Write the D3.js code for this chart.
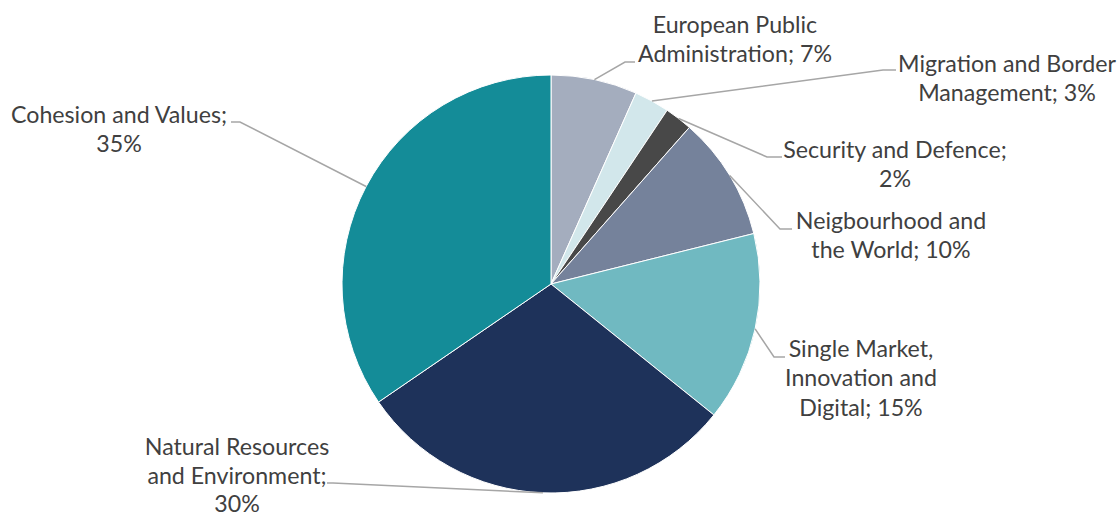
<!DOCTYPE html>
<html>
<head>
<meta charset="utf-8">
<script src="https://cdn.jsdelivr.net/npm/d3@7"></script>
<style>
  body { margin: 0; background: #fff; }
  text { font-family: Lato, "Noto Sans", sans-serif; fill: #404040; }
</style>
</head>
<body>
<script>
const headings = [
  "European Public Administration",
  "Migration and Border Management",
  "Security and Defence",
  "Neigbourhood and the World",
  "Single Market, Innovation and Digital",
  "Natural Resources and Environment",
  "Cohesion and Values"
];
const amounts = [75.6, 30.8, 24.3, 108.9, 166.3, 336.6, 392.0];
const colours = ["#a4adbe", "#d2e7eb", "#484848", "#75829b", "#70b9c1", "#1e325a", "#148c98"];

// how each label is broken in lines (last line gets "; xx%")
const labelLines = [
  ["European Public", "Administration;"],
  ["Migration and Border", "Management;"],
  ["Security and Defence;", ""],
  ["Neigbourhood and", "the World;"],
  ["Single Market,", "Innovation and", "Digital;"],
  ["Natural Resources", "and Environment;", ""],
  ["Cohesion and Values;", ""]
];

// label layout: text centre, first baseline, leader elbow and its end
const labelPos = [
  {x: 735, y: 33, ex: 625, ey: 62, hx: 635},
  {x: 1007, y: 72, ex: 883, ey: 70, hx: 896},
  {x: 895, y: 158, ex: 767, ey: 157, hx: 782},
  {x: 891, y: 229, ex: 780, ey: 229, hx: 792},
  {x: 861, y: 357, ex: 774, ey: 357, hx: 785},
  {x: 237, y: 455, ex: 333, ey: 483, hx: 327},
  {x: 119, y: 123, ex: 240, ey: 122, hx: 231}
];

const w = 1118, h = 519;
const cx = 551, cy = 284, r = 209;
const lineH = 29.4;

const svg = d3.select("body").append("svg")
  .attr("width", w)
  .attr("height", h);

const total = d3.sum(amounts);
const fmt = d3.format(".0%");

const pie = d3.pie().sort(null).value(d => d);
const arcs = pie(amounts);
const arc = d3.arc().innerRadius(0).outerRadius(r);

const g = svg.append("g").attr("transform", `translate(${cx},${cy})`);

g.selectAll("path.slice")
  .data(arcs)
  .join("path")
  .attr("class", "slice")
  .attr("d", arc)
  .attr("fill", (d, i) => colours[i])
  .attr("stroke", "#fff")
  .attr("stroke-width", 1);

// leader lines from the middle of each slice edge to its label
arcs.forEach((d, i) => {
  const a = (d.startAngle + d.endAngle) / 2;
  const sx = cx + r * Math.sin(a), sy = cy - r * Math.cos(a);
  const p = labelPos[i];
  svg.append("polyline")
    .attr("points", `${sx},${sy} ${p.ex},${p.ey} ${p.hx},${p.ey}`)
    .attr("fill", "none")
    .attr("stroke", "#a6a6a6")
    .attr("stroke-width", 1.5);
});

// labels
arcs.forEach((d, i) => {
  const p = labelPos[i];
  const lines = labelLines[i].slice();
  const pct = fmt(d.value / total);
  const last = lines.length - 1;
  lines[last] = lines[last] ? lines[last] + " " + pct : pct;
  const t = svg.append("text")
    .attr("text-anchor", "middle")
    .attr("font-size", 23.2);
  lines.forEach((ln, j) => {
    t.append("tspan")
      .attr("x", p.x)
      .attr("y", p.y + j * (i === 5 ? 28.6 : lineH))
      .text(ln);
  });
});
</script>
</body>
</html>
